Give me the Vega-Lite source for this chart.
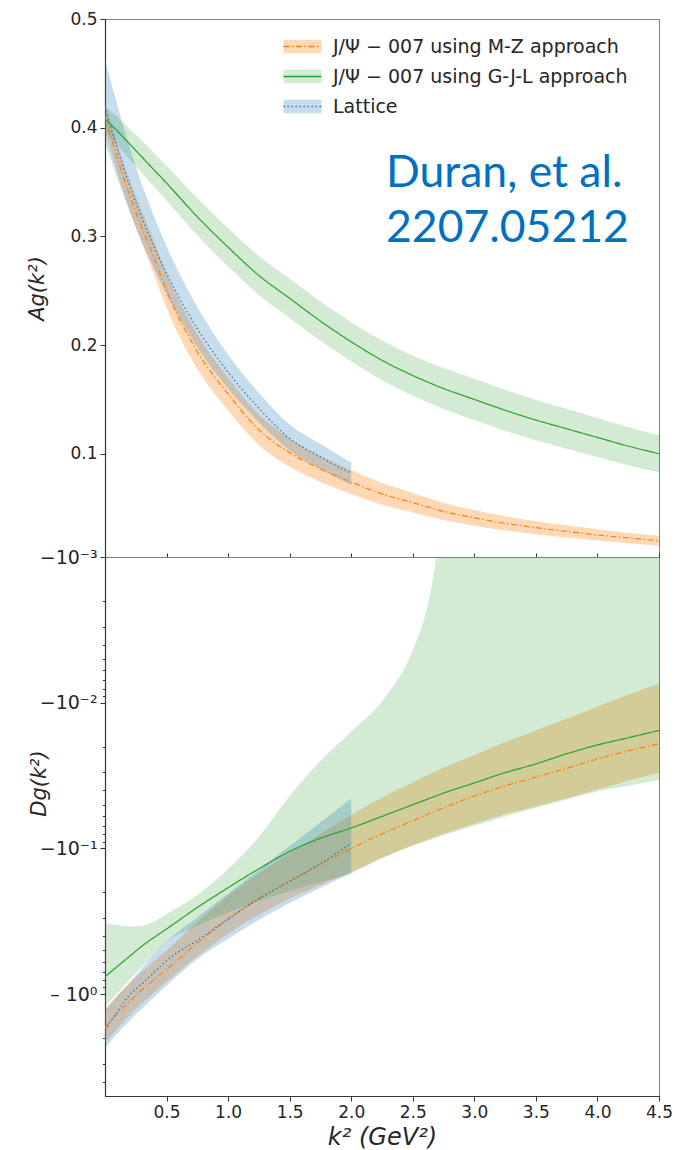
{
  "$schema": "https://vega.github.io/schema/vega-lite/v6.json",
  "background": "white",
  "padding": {"left": 26, "top": 9, "right": 5, "bottom": 5},
  "spacing": 0,
  "bounds": "flush",
  "datasets": {
    "top": [
      {"series": "J/Ψ − 007 using M-Z approach", "x": 0, "lo": 0.398, "mid": 0.410, "hi": 0.422},
      {"series": "J/Ψ − 007 using M-Z approach", "x": 0.1, "lo": 0.359, "mid": 0.372, "hi": 0.385},
      {"series": "J/Ψ − 007 using M-Z approach", "x": 0.2, "lo": 0.324, "mid": 0.338, "hi": 0.352},
      {"series": "J/Ψ − 007 using M-Z approach", "x": 0.3, "lo": 0.293, "mid": 0.308, "hi": 0.323},
      {"series": "J/Ψ − 007 using M-Z approach", "x": 0.4, "lo": 0.2645, "mid": 0.280, "hi": 0.2955},
      {"series": "J/Ψ − 007 using M-Z approach", "x": 0.5, "lo": 0.234, "mid": 0.250, "hi": 0.266},
      {"series": "J/Ψ − 007 using M-Z approach", "x": 0.75, "lo": 0.178, "mid": 0.194, "hi": 0.210},
      {"series": "J/Ψ − 007 using M-Z approach", "x": 1.0, "lo": 0.140, "mid": 0.155, "hi": 0.170},
      {"series": "J/Ψ − 007 using M-Z approach", "x": 1.25, "lo": 0.108, "mid": 0.122, "hi": 0.136},
      {"series": "J/Ψ − 007 using M-Z approach", "x": 1.5, "lo": 0.088, "mid": 0.101, "hi": 0.114},
      {"series": "J/Ψ − 007 using M-Z approach", "x": 1.75, "lo": 0.074, "mid": 0.086, "hi": 0.098},
      {"series": "J/Ψ − 007 using M-Z approach", "x": 2.0, "lo": 0.063, "mid": 0.074, "hi": 0.085},
      {"series": "J/Ψ − 007 using M-Z approach", "x": 2.25, "lo": 0.053, "mid": 0.063, "hi": 0.073},
      {"series": "J/Ψ − 007 using M-Z approach", "x": 2.5, "lo": 0.046, "mid": 0.055, "hi": 0.064},
      {"series": "J/Ψ − 007 using M-Z approach", "x": 2.75, "lo": 0.039, "mid": 0.047, "hi": 0.055},
      {"series": "J/Ψ − 007 using M-Z approach", "x": 3.0, "lo": 0.0338, "mid": 0.041, "hi": 0.0482},
      {"series": "J/Ψ − 007 using M-Z approach", "x": 3.25, "lo": 0.0294, "mid": 0.036, "hi": 0.0426},
      {"series": "J/Ψ − 007 using M-Z approach", "x": 3.5, "lo": 0.026, "mid": 0.032, "hi": 0.038},
      {"series": "J/Ψ − 007 using M-Z approach", "x": 3.75, "lo": 0.0229, "mid": 0.0285, "hi": 0.0341},
      {"series": "J/Ψ − 007 using M-Z approach", "x": 4.0, "lo": 0.0201, "mid": 0.0253, "hi": 0.0305},
      {"series": "J/Ψ − 007 using M-Z approach", "x": 4.25, "lo": 0.0176, "mid": 0.0225, "hi": 0.0274},
      {"series": "J/Ψ − 007 using M-Z approach", "x": 4.5, "lo": 0.0154, "mid": 0.0200, "hi": 0.0246},
      {"series": "J/Ψ − 007 using G-J-L approach", "x": 0, "lo": 0.396, "mid": 0.408, "hi": 0.420},
      {"series": "J/Ψ − 007 using G-J-L approach", "x": 0.1, "lo": 0.384, "mid": 0.397, "hi": 0.410},
      {"series": "J/Ψ − 007 using G-J-L approach", "x": 0.2, "lo": 0.371, "mid": 0.385, "hi": 0.399},
      {"series": "J/Ψ − 007 using G-J-L approach", "x": 0.3, "lo": 0.358, "mid": 0.373, "hi": 0.388},
      {"series": "J/Ψ − 007 using G-J-L approach", "x": 0.4, "lo": 0.3455, "mid": 0.361, "hi": 0.3765},
      {"series": "J/Ψ − 007 using G-J-L approach", "x": 0.5, "lo": 0.333, "mid": 0.349, "hi": 0.365},
      {"series": "J/Ψ − 007 using G-J-L approach", "x": 0.75, "lo": 0.301, "mid": 0.318, "hi": 0.335},
      {"series": "J/Ψ − 007 using G-J-L approach", "x": 1.0, "lo": 0.2725, "mid": 0.290, "hi": 0.3075},
      {"series": "J/Ψ − 007 using G-J-L approach", "x": 1.25, "lo": 0.246, "mid": 0.264, "hi": 0.282},
      {"series": "J/Ψ − 007 using G-J-L approach", "x": 1.5, "lo": 0.225, "mid": 0.243, "hi": 0.261},
      {"series": "J/Ψ − 007 using G-J-L approach", "x": 1.75, "lo": 0.204, "mid": 0.222, "hi": 0.240},
      {"series": "J/Ψ − 007 using G-J-L approach", "x": 2.0, "lo": 0.185, "mid": 0.203, "hi": 0.221},
      {"series": "J/Ψ − 007 using G-J-L approach", "x": 2.25, "lo": 0.1677, "mid": 0.186, "hi": 0.2043},
      {"series": "J/Ψ − 007 using G-J-L approach", "x": 2.5, "lo": 0.1535, "mid": 0.172, "hi": 0.1905},
      {"series": "J/Ψ − 007 using G-J-L approach", "x": 2.75, "lo": 0.1412, "mid": 0.160, "hi": 0.1788},
      {"series": "J/Ψ − 007 using G-J-L approach", "x": 3.0, "lo": 0.131, "mid": 0.150, "hi": 0.169},
      {"series": "J/Ψ − 007 using G-J-L approach", "x": 3.25, "lo": 0.1212, "mid": 0.140, "hi": 0.1588},
      {"series": "J/Ψ − 007 using G-J-L approach", "x": 3.5, "lo": 0.1125, "mid": 0.131, "hi": 0.1495},
      {"series": "J/Ψ − 007 using G-J-L approach", "x": 3.75, "lo": 0.1047, "mid": 0.123, "hi": 0.1413},
      {"series": "J/Ψ − 007 using G-J-L approach", "x": 4.0, "lo": 0.097, "mid": 0.115, "hi": 0.133},
      {"series": "J/Ψ − 007 using G-J-L approach", "x": 4.25, "lo": 0.0895, "mid": 0.107, "hi": 0.1245},
      {"series": "J/Ψ − 007 using G-J-L approach", "x": 4.5, "lo": 0.083, "mid": 0.100, "hi": 0.117},
      {"series": "Lattice", "x": 0, "lo": 0.387, "mid": 0.419, "hi": 0.463},
      {"series": "Lattice", "x": 0.1, "lo": 0.354, "mid": 0.381, "hi": 0.421},
      {"series": "Lattice", "x": 0.2, "lo": 0.323, "mid": 0.347, "hi": 0.382},
      {"series": "Lattice", "x": 0.3, "lo": 0.295, "mid": 0.317, "hi": 0.348},
      {"series": "Lattice", "x": 0.4, "lo": 0.270, "mid": 0.290, "hi": 0.318},
      {"series": "Lattice", "x": 0.5, "lo": 0.247, "mid": 0.266, "hi": 0.291},
      {"series": "Lattice", "x": 0.75, "lo": 0.198, "mid": 0.215, "hi": 0.235},
      {"series": "Lattice", "x": 1.0, "lo": 0.160, "mid": 0.175, "hi": 0.191},
      {"series": "Lattice", "x": 1.25, "lo": 0.129, "mid": 0.142, "hi": 0.156},
      {"series": "Lattice", "x": 1.5, "lo": 0.103, "mid": 0.114, "hi": 0.127},
      {"series": "Lattice", "x": 1.75, "lo": 0.086, "mid": 0.097, "hi": 0.109},
      {"series": "Lattice", "x": 2.0, "lo": 0.071, "mid": 0.082, "hi": 0.092}
    ],
    "bottom": [
      {"series": "J/Ψ − 007 using M-Z approach", "x": 0, "lo": -2.163, "mid": -1.698, "hi": -1.288},
      {"series": "J/Ψ − 007 using M-Z approach", "x": 0.1, "lo": -1.718, "mid": -1.365, "hi": -1.030},
      {"series": "J/Ψ − 007 using M-Z approach", "x": 0.2, "lo": -1.396, "mid": -1.122, "hi": -0.843},
      {"series": "J/Ψ − 007 using M-Z approach", "x": 0.3, "lo": -1.148, "mid": -0.933, "hi": -0.698},
      {"series": "J/Ψ − 007 using M-Z approach", "x": 0.4, "lo": -0.973, "mid": -0.794, "hi": -0.592},
      {"series": "J/Ψ − 007 using M-Z approach", "x": 0.5, "lo": -0.822, "mid": -0.676, "hi": -0.501},
      {"series": "J/Ψ − 007 using M-Z approach", "x": 0.75, "lo": -0.550, "mid": -0.447, "hi": -0.320},
      {"series": "J/Ψ − 007 using M-Z approach", "x": 1.0, "lo": -0.385, "mid": -0.305, "hi": -0.211},
      {"series": "J/Ψ − 007 using M-Z approach", "x": 1.25, "lo": -0.285, "mid": -0.221, "hi": -0.148},
      {"series": "J/Ψ − 007 using M-Z approach", "x": 1.5, "lo": -0.221, "mid": -0.168, "hi": -0.108},
      {"series": "J/Ψ − 007 using M-Z approach", "x": 1.75, "lo": -0.178, "mid": -0.129, "hi": -0.0794},
      {"series": "J/Ψ − 007 using M-Z approach", "x": 2.0, "lo": -0.145, "mid": -0.100, "hi": -0.0589},
      {"series": "J/Ψ − 007 using M-Z approach", "x": 2.25, "lo": -0.116, "mid": -0.0794, "hi": -0.0447},
      {"series": "J/Ψ − 007 using M-Z approach", "x": 2.5, "lo": -0.0955, "mid": -0.0646, "hi": -0.0351},
      {"series": "J/Ψ − 007 using M-Z approach", "x": 2.75, "lo": -0.0794, "mid": -0.0525, "hi": -0.0279},
      {"series": "J/Ψ − 007 using M-Z approach", "x": 3.0, "lo": -0.0676, "mid": -0.0437, "hi": -0.0229},
      {"series": "J/Ψ − 007 using M-Z approach", "x": 3.25, "lo": -0.0582, "mid": -0.0372, "hi": -0.0186},
      {"series": "J/Ψ − 007 using M-Z approach", "x": 3.5, "lo": -0.0513, "mid": -0.0324, "hi": -0.0155},
      {"series": "J/Ψ − 007 using M-Z approach", "x": 3.75, "lo": -0.0452, "mid": -0.0282, "hi": -0.0129},
      {"series": "J/Ψ − 007 using M-Z approach", "x": 4.0, "lo": -0.0394, "mid": -0.0243, "hi": -0.0106},
      {"series": "J/Ψ − 007 using M-Z approach", "x": 4.25, "lo": -0.0343, "mid": -0.0214, "hi": -0.00881},
      {"series": "J/Ψ − 007 using M-Z approach", "x": 4.5, "lo": -0.0302, "mid": -0.0191, "hi": -0.00741},
      {"series": "J/Ψ − 007 using G-J-L approach", "x": 0, "lo": -1.219, "mid": -0.760, "hi": -0.327},
      {"series": "J/Ψ − 007 using G-J-L approach", "x": 0.1, "lo": -0.986, "mid": -0.646, "hi": -0.335},
      {"series": "J/Ψ − 007 using G-J-L approach", "x": 0.2, "lo": -0.798, "mid": -0.550, "hi": -0.343},
      {"series": "J/Ψ − 007 using G-J-L approach", "x": 0.3, "lo": -0.646, "mid": -0.468, "hi": -0.339},
      {"series": "J/Ψ − 007 using G-J-L approach", "x": 0.4, "lo": -0.525, "mid": -0.407, "hi": -0.316},
      {"series": "J/Ψ − 007 using G-J-L approach", "x": 0.5, "lo": -0.437, "mid": -0.357, "hi": -0.282},
      {"series": "J/Ψ − 007 using G-J-L approach", "x": 0.75, "lo": -0.339, "mid": -0.254, "hi": -0.209},
      {"series": "J/Ψ − 007 using G-J-L approach", "x": 1.0, "lo": -0.275, "mid": -0.186, "hi": -0.138},
      {"series": "J/Ψ − 007 using G-J-L approach", "x": 1.25, "lo": -0.229, "mid": -0.138, "hi": -0.0832},
      {"series": "J/Ψ − 007 using G-J-L approach", "x": 1.5, "lo": -0.195, "mid": -0.105, "hi": -0.0437},
      {"series": "J/Ψ − 007 using G-J-L approach", "x": 1.75, "lo": -0.170, "mid": -0.0851, "hi": -0.0251},
      {"series": "J/Ψ − 007 using G-J-L approach", "x": 2.0, "lo": -0.148, "mid": -0.0724, "hi": -0.0158},
      {"series": "J/Ψ − 007 using G-J-L approach", "x": 2.25, "lo": -0.117, "mid": -0.0603, "hi": -0.00977},
      {"series": "J/Ψ − 007 using G-J-L approach", "x": 2.5, "lo": -0.0955, "mid": -0.0501, "hi": -0.00437},
      {"series": "J/Ψ − 007 using G-J-L approach", "x": 2.625, "lo": -0.0881, "mid": -0.0457, "hi": -0.00209},
      {"series": "J/Ψ − 007 using G-J-L approach", "x": 2.75, "lo": -0.0813, "mid": -0.0417, "hi": -0.000501},
      {"series": "J/Ψ − 007 using G-J-L approach", "x": 3.0, "lo": -0.0700, "mid": -0.0355, "hi": -0.0001},
      {"series": "J/Ψ − 007 using G-J-L approach", "x": 3.25, "lo": -0.0603, "mid": -0.0302, "hi": -0.0001},
      {"series": "J/Ψ − 007 using G-J-L approach", "x": 3.5, "lo": -0.0525, "mid": -0.0263, "hi": -0.0001},
      {"series": "J/Ψ − 007 using G-J-L approach", "x": 3.75, "lo": -0.0462, "mid": -0.0224, "hi": -0.0001},
      {"series": "J/Ψ − 007 using G-J-L approach", "x": 4.0, "lo": -0.0407, "mid": -0.0195, "hi": -0.0001},
      {"series": "J/Ψ − 007 using G-J-L approach", "x": 4.25, "lo": -0.0372, "mid": -0.0174, "hi": -0.0001},
      {"series": "J/Ψ − 007 using G-J-L approach", "x": 4.5, "lo": -0.0340, "mid": -0.0155, "hi": -0.0001},
      {"series": "Lattice", "x": 0, "lo": -2.355, "mid": -1.762, "hi": -1.285},
      {"series": "Lattice", "x": 0.1, "lo": -1.862, "mid": -1.318, "hi": -1.023},
      {"series": "Lattice", "x": 0.2, "lo": -1.514, "mid": -1.012, "hi": -0.832},
      {"series": "Lattice", "x": 0.3, "lo": -1.259, "mid": -0.851, "hi": -0.661},
      {"series": "Lattice", "x": 0.4, "lo": -1.047, "mid": -0.708, "hi": -0.525},
      {"series": "Lattice", "x": 0.5, "lo": -0.871, "mid": -0.589, "hi": -0.434},
      {"series": "Lattice", "x": 0.75, "lo": -0.575, "mid": -0.427, "hi": -0.298},
      {"series": "Lattice", "x": 1.0, "lo": -0.417, "mid": -0.305, "hi": -0.204},
      {"series": "Lattice", "x": 1.25, "lo": -0.309, "mid": -0.221, "hi": -0.140},
      {"series": "Lattice", "x": 1.5, "lo": -0.237, "mid": -0.168, "hi": -0.0964},
      {"series": "Lattice", "x": 1.75, "lo": -0.186, "mid": -0.127, "hi": -0.0661},
      {"series": "Lattice", "x": 2.0, "lo": -0.148, "mid": -0.0923, "hi": -0.0454}
    ]
  },
  "vconcat": [
    {
      "width": 554,
      "height": 538,
      "data": {"name": "top"},
      "resolve": {"legend": {"fill": "independent", "stroke": "independent", "strokeDash": "independent"}},
      "layer": [
        {
          "mark": {"type": "area", "clip": true, "opacity": 1, "interpolate": "monotone"},
          "encoding": {
            "x": {"field": "x", "type": "quantitative", "scale": {"domain": [0, 4.5], "nice": false, "zero": false},
                  "axis": {"values": [0.5, 1, 1.5, 2, 2.5, 3, 3.5, 4, 4.5], "labels": false, "title": null, "tickSize": -4}},
            "y": {"field": "lo", "type": "quantitative", "scale": {"domain": [0.005, 0.5], "nice": false, "zero": false},
                  "axis": {"values": [0.1, 0.2, 0.3, 0.4, 0.5], "format": ".1f", "title": "Ag(k²)", "titleFontStyle": "italic", "titlePadding": 22, "labelFlush": false, "labelOverlap": false}},
            "y2": {"field": "hi"},
            "fill": {"field": "series", "type": "nominal",
                     "scale": {"domain": ["J/Ψ − 007 using M-Z approach", "J/Ψ − 007 using G-J-L approach", "Lattice"],
                               "range": ["rgba(255,127,14,0.3)", "rgba(44,160,44,0.21)", "rgba(31,119,180,0.25)"]},
                     "legend": {"orient": "none", "legendX": 184, "legendY": 14, "title": null, "padding": 0,
                                "symbolType": "M-1.5,-0.525H1.5V0.525H-1.5Z", "symbolSize": 642, "symbolStrokeWidth": 1.5,
                                "symbolStrokeColor": "transparent", "symbolOpacity": 1,
                                "labelFont": "DejaVu Sans", "labelFontSize": 19, "labelColor": "#262626", "labelOpacity": 0,
                                "labelLimit": 400, "labelOffset": 17, "rowPadding": 6}}
          }
        },
        {
          "mark": {"type": "line", "clip": true, "strokeWidth": 1.2, "interpolate": "monotone"},
          "encoding": {
            "x": {"field": "x", "type": "quantitative", "scale": {"domain": [0, 4.5], "nice": false, "zero": false},
                  "axis": {"values": [0.5, 1, 1.5, 2, 2.5, 3, 3.5, 4, 4.5], "labels": false, "title": null, "tickSize": -4}},
            "y": {"field": "mid", "type": "quantitative", "scale": {"domain": [0.005, 0.5], "nice": false, "zero": false},
                  "axis": {"values": [0.1, 0.2, 0.3, 0.4, 0.5], "format": ".1f", "title": "Ag(k²)", "titleFontStyle": "italic", "titlePadding": 22, "labelFlush": false, "labelOverlap": false}},
            "stroke": {"field": "series", "type": "nominal",
                       "scale": {"domain": ["J/Ψ − 007 using M-Z approach", "J/Ψ − 007 using G-J-L approach", "Lattice"],
                                 "range": ["#ff7f0e", "#2ca02c", "#1f77b4"]},
                       "legend": {"orient": "none", "legendX": 184, "legendY": 14, "title": null, "padding": 0,
                                  "symbolType": "M-1.5,0H1.5", "symbolSize": 642, "symbolStrokeWidth": 1.5,
                                  "labelFont": "DejaVu Sans", "labelFontSize": 19, "labelColor": "#262626",
                                  "labelLimit": 400, "labelOffset": 17, "rowPadding": 6}},
            "strokeDash": {"field": "series", "type": "nominal",
                           "scale": {"domain": ["J/Ψ − 007 using M-Z approach", "J/Ψ − 007 using G-J-L approach", "Lattice"],
                                     "range": [[6, 2.5, 1.5, 2.5], [1, 0], [1.5, 2.5]]},
                           "legend": {"orient": "none", "legendX": 184, "legendY": 14, "title": null, "padding": 0,
                                      "symbolType": "M-1.5,0H1.5", "symbolSize": 642, "symbolStrokeWidth": 1.5,
                                      "labelFont": "DejaVu Sans", "labelFontSize": 19, "labelColor": "#262626",
                                      "labelLimit": 400, "labelOffset": 17, "rowPadding": 6}}
          }
        },
        {
          "data": {"values": [{}]},
          "mark": {"type": "text", "align": "left", "baseline": "alphabetic", "font": "Lato", "fontSize": 44.5, "color": "#0070c0", "lineHeight": 55},
          "encoding": {
            "x": {"datum": 2.283, "type": "quantitative"},
            "y": {"datum": 0.3451, "type": "quantitative"},
            "text": {"value": ["Duran, et al.", "2207.05212"]}
          }
        }
      ]
    },
    {
      "width": 554,
      "height": 539,
      "data": {"name": "bottom"},
      "layer": [
        {
          "mark": {"type": "area", "clip": true, "opacity": 1, "interpolate": "monotone"},
          "encoding": {
            "x": {"field": "x", "type": "quantitative", "scale": {"domain": [0, 4.5], "nice": false, "zero": false},
                  "axis": {"values": [0.5, 1, 1.5, 2, 2.5, 3, 3.5, 4, 4.5], "format": ".1f", "title": "k² (GeV²)", "titleFontStyle": "italic", "titleFontSize": 24, "titlePadding": 5, "labelFlush": false, "labelOverlap": false}},
            "y": {"field": "lo", "type": "quantitative", "scale": {"type": "log", "domain": [-5, -0.001], "nice": false},
                  "axis": {"values": [-0.001, -0.002, -0.003, -0.004, -0.005, -0.006, -0.007, -0.008, -0.009, -0.01, -0.02, -0.03, -0.04, -0.05, -0.06, -0.07, -0.08, -0.09, -0.1, -0.2, -0.3, -0.4, -0.5, -0.6, -0.7, -0.8, -0.9, -1, -2, -3, -4],
                           "labelExpr": "datum.value == -0.001 ? '−10⁻³' : datum.value == -0.01 ? '−10⁻²' : datum.value == -0.1 ? '−10⁻¹' : datum.value == -1 ? '–  10⁰' : ''",
                           "tickSize": {"condition": {"test": "datum.value == -0.001 || datum.value == -0.01 || datum.value == -0.1 || datum.value == -1", "value": 5}, "value": 2.5},
                           "labelFontSize": 19,
                           "title": "Dg(k²)", "titleFontStyle": "italic", "titleX": -56, "titleY": 226, "labelFlush": false, "labelOverlap": false}},
            "y2": {"field": "hi"},
            "fill": {"field": "series", "type": "nominal",
                     "scale": {"domain": ["J/Ψ − 007 using M-Z approach", "J/Ψ − 007 using G-J-L approach", "Lattice"],
                               "range": ["rgba(255,127,14,0.3)", "rgba(44,160,44,0.21)", "rgba(31,119,180,0.25)"]},
                     "legend": null}
          }
        },
        {
          "mark": {"type": "line", "clip": true, "strokeWidth": 1.2, "interpolate": "monotone"},
          "encoding": {
            "x": {"field": "x", "type": "quantitative", "scale": {"domain": [0, 4.5], "nice": false, "zero": false},
                  "axis": {"values": [0.5, 1, 1.5, 2, 2.5, 3, 3.5, 4, 4.5], "format": ".1f", "title": "k² (GeV²)", "titleFontStyle": "italic", "titleFontSize": 24, "titlePadding": 5, "labelFlush": false, "labelOverlap": false}},
            "y": {"field": "mid", "type": "quantitative", "scale": {"type": "log", "domain": [-5, -0.001], "nice": false},
                  "axis": {"values": [-0.001, -0.002, -0.003, -0.004, -0.005, -0.006, -0.007, -0.008, -0.009, -0.01, -0.02, -0.03, -0.04, -0.05, -0.06, -0.07, -0.08, -0.09, -0.1, -0.2, -0.3, -0.4, -0.5, -0.6, -0.7, -0.8, -0.9, -1, -2, -3, -4],
                           "labelExpr": "datum.value == -0.001 ? '−10⁻³' : datum.value == -0.01 ? '−10⁻²' : datum.value == -0.1 ? '−10⁻¹' : datum.value == -1 ? '–  10⁰' : ''",
                           "tickSize": {"condition": {"test": "datum.value == -0.001 || datum.value == -0.01 || datum.value == -0.1 || datum.value == -1", "value": 5}, "value": 2.5},
                           "labelFontSize": 19,
                           "title": "Dg(k²)", "titleFontStyle": "italic", "titleX": -56, "titleY": 226, "labelFlush": false, "labelOverlap": false}},
            "stroke": {"field": "series", "type": "nominal",
                       "scale": {"domain": ["J/Ψ − 007 using M-Z approach", "J/Ψ − 007 using G-J-L approach", "Lattice"],
                                 "range": ["#ff7f0e", "#2ca02c", "#1f77b4"]},
                       "legend": null},
            "strokeDash": {"field": "series", "type": "nominal",
                           "scale": {"domain": ["J/Ψ − 007 using M-Z approach", "J/Ψ − 007 using G-J-L approach", "Lattice"],
                                     "range": [[6, 2.5, 1.5, 2.5], [1, 0], [1.5, 2.5]]},
                           "legend": null}
          }
        }
      ]
    }
  ],
  "config": {
    "font": "DejaVu Sans",
    "view": {"stroke": "#808080", "strokeWidth": 1},
    "axis": {
      "grid": false,
      "domainColor": "#333333",
      "domainWidth": 1.2,
      "tickColor": "#333333",
      "tickWidth": 1,
      "tickSize": 5,
      "labelColor": "#262626",
      "titleColor": "#262626",
      "labelFont": "DejaVu Sans",
      "labelFontSize": 17,
      "labelPadding": 3,
      "titleFont": "DejaVu Sans",
      "titleFontSize": 21,
      "titleFontWeight": "normal"
    }
  }
}
